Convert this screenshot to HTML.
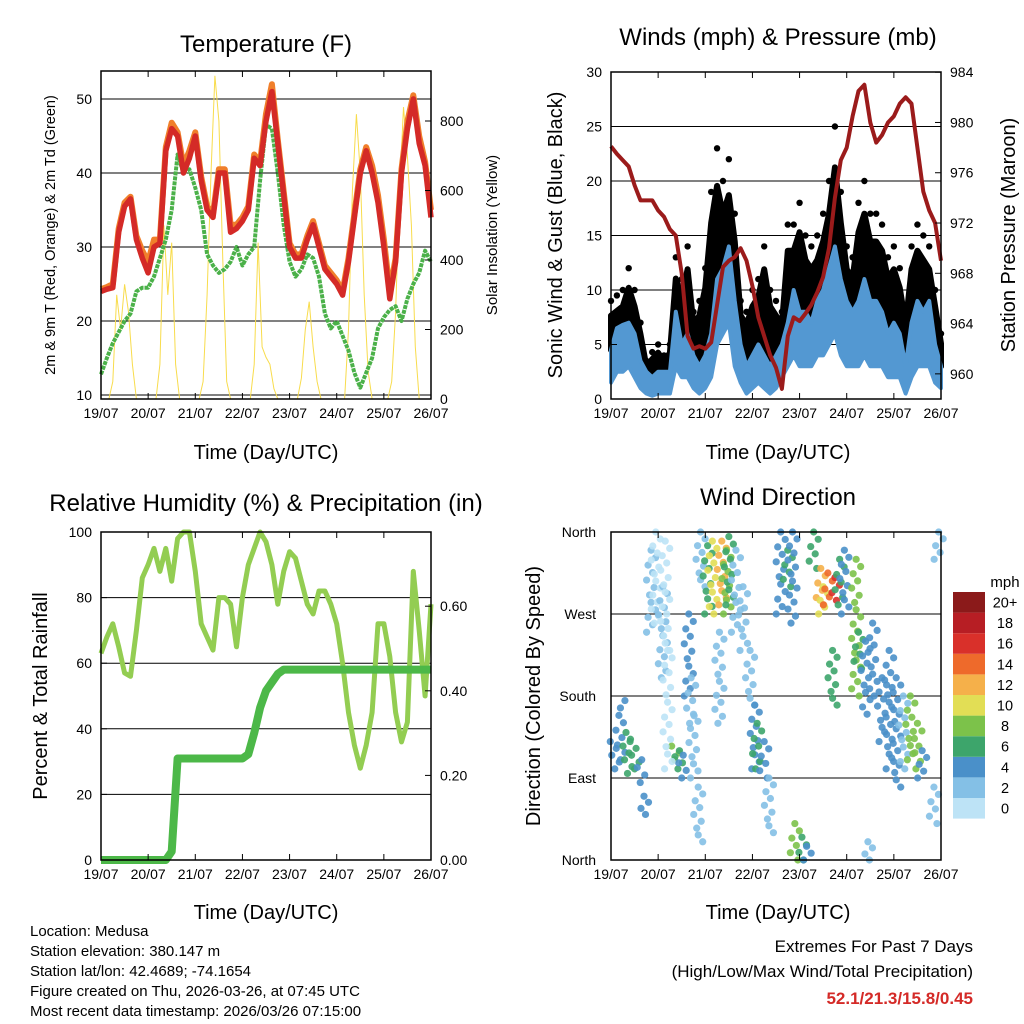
<!DOCTYPE html>
<html><head><meta charset="utf-8"><style>
body{margin:0;background:#fff;}
svg{display:block;font-family:"Liberation Sans",sans-serif;}
</style></head><body>
<svg id="c" width="1024" height="1024" viewBox="0 0 1024 1024">
<rect width="1024" height="1024" fill="#fff"/>
<text x="266" y="52" font-size="24" text-anchor="middle">Temperature (F)</text>
<text x="778" y="45" font-size="24" text-anchor="middle">Winds (mph) &amp; Pressure (mb)</text>
<text x="266" y="511" font-size="24" text-anchor="middle">Relative Humidity (%) &amp; Precipitation (in)</text>
<text x="778" y="505" font-size="24" text-anchor="middle">Wind Direction</text>
<text transform="translate(55,235) rotate(-90)" font-size="14.5" text-anchor="middle">2m &amp; 9m T (Red, Orange) &amp; 2m Td (Green)</text>
<text transform="translate(497,235) rotate(-90)" font-size="15" text-anchor="middle">Solar Insolation (Yellow)</text>
<text transform="translate(562,235) rotate(-90)" font-size="20" text-anchor="middle">Sonic Wind &amp; Gust (Blue, Black)</text>
<text transform="translate(1015,235) rotate(-90)" font-size="20" text-anchor="middle">Station Pressure (Maroon)</text>
<text transform="translate(47,696) rotate(-90)" font-size="20" text-anchor="middle">Percent &amp; Total Rainfall</text>
<text transform="translate(540,696) rotate(-90)" font-size="20" text-anchor="middle">Direction (Colored By Speed)</text>
<text x="266" y="459" font-size="20" text-anchor="middle">Time (Day/UTC)</text>
<text x="778" y="459" font-size="20" text-anchor="middle">Time (Day/UTC)</text>
<text x="266" y="919" font-size="20" text-anchor="middle">Time (Day/UTC)</text>
<text x="778" y="919" font-size="20" text-anchor="middle">Time (Day/UTC)</text>
<g font-size="15">
<text x="30" y="936">Location: Medusa</text>
<text x="30" y="956">Station elevation: 380.147 m</text>
<text x="30" y="976">Station lat/lon: 42.4689; -74.1654</text>
<text x="30" y="996">Figure created on Thu, 2026-03-26, at 07:45 UTC</text>
<text x="30" y="1016">Most recent data timestamp: 2026/03/26 07:15:00</text>
</g>
<text x="973" y="952" font-size="17" text-anchor="end">Extremes For Past 7 Days</text>
<text x="973" y="977" font-size="17" text-anchor="end">(High/Low/Max Wind/Total Precipitation)</text>
<text x="973" y="1004" font-size="17" font-weight="bold" fill="#d42a27" text-anchor="end">52.1/21.3/15.8/0.45</text>
<text x="1005" y="587" font-size="15" text-anchor="middle">mph</text>
</svg>
<script>
const dayLabels=["19/07","20/07","21/07","22/07","23/07","24/07","25/07","26/07"];
const tempRed=[24,24.3,24.5,32,35.5,36.5,31,28.5,26.5,30,30.5,43,46,45,40,42,45,39,35,34,40,40,32,32.5,33.5,35,42,41,47,51,44,37,30,28.5,28.5,31,33,30,27,26,25,23.5,28,34,40,43,40,36,30,23,28,40,46,50,44,41,34];
const tempOrange=[24.3,24.6,25,32.5,36,36.8,31.5,29.5,28,31,31,43.5,46.8,45.5,41,43,45.5,39.5,35.5,34.5,40.5,40.5,33,33,34,35.5,42.5,41.5,48,52,44.5,37.5,30.5,29,29,31.5,33.5,30.5,27.5,26.5,25.5,24,28.5,34.5,40.5,43.5,41,37,31,24,28.5,40.5,47,50.5,45,41.5,35];
const dewGreen=[12.8,15,17,18.5,20,21,24,24.5,24.5,26,28.5,31,35,42.5,40,40.5,38,35,29,27.5,26.5,27,28,30,27.5,29,30,39,46.5,46,40,33,28,26,27,29,28.5,26,21,19,20,18,16,13,11,13,15,19,20.5,21.5,22,20,23,25,26.5,29.5,28];
const solar=[0,0,0,50,300,200,330,250,100,0,0,0, 0,0,0,100,500,300,450,100,0,0,0,0, 0,0,50,300,650,930,800,400,50,0,0,0, 0,0,0,100,450,150,120,100,30,0,0,0, 0,0,0,60,200,280,150,50,0,0,0,0, 0,0,0,200,600,820,650,300,80,0,0,0, 0,0,50,250,600,840,700,500,150,0,0,0,0];
const tempTicks=[10,20,30,40,50];
const solarTicks=[0,200,400,600,800];
const windMean=[4.5,6.5,6.8,7,6,3.5,2.5,2,2.5,2.5,2.5,8,5,6,4,3,4,6,11,12,14,9,5,3,4,5,4,3,4,5,7,10,8,8,7,9,10,12,14,11,9,8,9,11,9,9,8,6,7,6,3,7,9,8,9,5,3];
const windLow=[1.5,2.5,2.5,3,2,1,0.5,0.3,0.5,0.5,0.5,3,2,2,1,0.5,1,2,5,6,7,3,1.5,0.5,1,1.5,1,0.5,1,2,3,4,3,3,3,4,4,5,6,4,3,3,3,4,3,3,3,2,2,2,0.5,2,3,3,3,1.5,1];
const gustMax=[9,9.5,10,12,10,7,3.5,4.3,5,4,5,13,11,14,8,9,12,19,23,20,22,17,9,8,10,11,14,10,9,8,16,16,18,15,14,15,17,20,25,19,14,13,18,20,17,17,16,13,14,12,8,14,16,15,14,10,6];
const pressure=[978.1,977.5,977,976.5,975,973.8,973.8,973.8,973,972.5,971.5,971,968,963,962,962.2,962,962.5,965.5,968.5,969,969.3,970,969,967,964.5,963,961.5,960.5,958.8,963,964.5,964.2,964.8,965.5,966.5,967.7,970,974,977,978,980.5,982.5,983,980,978.4,979,980,980.5,981.5,982,981.5,978,974.5,973,972,969];
const windTicks=[0,5,10,15,20,25,30];
const pressTicks=[960,964,968,972,976,980,984];
const relHum=[63,68,72,65,57,56,70,86,90,95,88,95,85,98,100,100,88,72,68,64,80,80,78,65,80,90,95,100,97,90,78,88,94,92,85,78,75,82,82,78,72,60,45,35,28,35,45,72,72,62,45,36,42,88,70,50,78];
const precip=[0,0,0,0,0,0,0,0,0,0,0,0,0.02,0.24,0.24,0.24,0.24,0.24,0.24,0.24,0.24,0.24,0.24,0.24,0.24,0.25,0.30,0.36,0.40,0.42,0.44,0.45,0.45,0.45,0.45,0.45,0.45,0.45,0.45,0.45,0.45,0.45,0.45,0.45,0.45,0.45,0.45,0.45,0.45,0.45,0.45,0.45,0.45,0.45,0.45,0.45,0.45];
const rhTicks=[0,20,40,60,80,100];
const precipTicks=[0,0.2,0.4,0.6];
const dirTime=[0.08,0.2,0.35,0.5,0.62,0.7,0.85,0.95,1.1,1.15,1.35,1.42,1.5,1.65,1.7,1.75,1.85,1.9,2.05,2.15,2.35,2.45,2.5,2.65,2.8,2.95,3.05,3.1,3.25,3.35,3.6,3.75,3.85,3.9,4.05,4.15,4.3,4.45,4.5,4.6,4.75,4.85,4.95,5.2,5.25,5.4,5.55,5.75,5.9,6.05,6.2,6.35,6.5,6.6,6.85,6.95,4.7,5.45,1.2,2.3];
const dirFrom=[100,110,95,100,85,70,340,360,300,350,110,100,90,270,200,160,80,360,345,350,350,340,355,340,300,230,170,150,130,90,360,340,360,40,25,15,360,320,300,315,310,330,340,330,250,240,260,200,230,200,180,180,150,120,80,360,230,20,230,250];
const dirTo=[130,175,140,130,110,50,250,260,200,230,125,120,115,180,150,90,20,300,270,270,280,270,280,250,230,170,100,100,90,30,270,300,260,0,0,0,320,280,270,280,285,280,270,180,210,160,180,130,100,80,100,110,100,90,40,330,170,0,100,150];
const dirSpeed=[4,4,5,6,4,3,1,0,1,0,7,5,3,3,2,2,1,2,5,9,11,8,6,2,1,1,3,5,3,2,4,6,3,8,5,3,5,12,10,14,15,6,3,7,5,4,4,4,3,3,2,8,7,3,1,2,6,1,0,2];
const dirTickLabels=["North","East","South","West","North"];
const dirTickValues=[0,90,180,270,360];
const speedBins=["0","2","4","6","8","10","12","14","16","18","20+"];
const speedColors=["#bde3f6","#84c0e6","#4a90c9","#3da56b","#7cc24a","#e2de55","#f5b04a","#ee6a2b","#d9302a","#b71e24","#8b1a1a"];

const NS="http://www.w3.org/2000/svg";
const svg=document.getElementById('c');
function mk(tag,attrs,parent){const e=document.createElementNS(NS,tag);for(const k in attrs)e.setAttribute(k,attrs[k]);(parent||svg).appendChild(e);return e;}
function txt(x,y,s,anchor,size,parent){const e=mk('text',{x:x,y:y,'font-size':size||14,'text-anchor':anchor||'middle'},parent);e.textContent=s;return e;}

const P=[{x0:101,x1:431,y0:71,y1:399},{x0:611,x1:941,y0:72,y1:399},{x0:101,x1:431,y0:532,y1:860},{x0:611,x1:941,y0:532,y1:860}];
const xStep=(p,i,n)=>p.x0+i*(p.x1-p.x0)/n;
const yTemp=v=>395-(v-10)*7.4;
const ySolar=v=>399-v*0.3475;
const yWind=v=>399-v*10.9;
const yPress=v=>399-(v-958)*12.57;
const yRH=v=>860-v*3.28;
const yPrecip=v=>860-v*423;
const xDir=t=>611+t*330/7;
const yDir=d=>860-d*328/360;

function pts(p,arr,yf,n){return arr.map((v,i)=>xStep(p,i,n).toFixed(1)+','+yf(v).toFixed(1)).join(' ');}

const g0=mk('g',{});


tempTicks.forEach(v=>{const l=mk('line',{x1:P[0].x0,x2:P[0].x1,y1:yTemp(v),y2:yTemp(v),stroke:'#000','stroke-width':1},g0);});
windTicks.slice(1).forEach(v=>{const l=mk('line',{x1:P[1].x0,x2:P[1].x1,y1:yWind(v),y2:yWind(v),stroke:'#000','stroke-width':1},g0);});
rhTicks.slice(1,5).forEach(v=>{const l=mk('line',{x1:P[2].x0,x2:P[2].x1,y1:yRH(v),y2:yRH(v),stroke:'#000','stroke-width':1},g0);});
dirTickValues.slice(1,4).forEach(v=>{const l=mk('line',{x1:P[3].x0,x2:P[3].x1,y1:yDir(v),y2:yDir(v),stroke:'#000','stroke-width':1},g0);});

// Panel 1
const sol=mk('polyline',{points:pts(P[0],solar,ySolar,84),fill:'none',stroke:'#f8dc4c','stroke-width':1});


const dew=mk('polyline',{points:pts(P[0],dewGreen,yTemp,56),fill:'none',stroke:'#4bb149','stroke-width':4,'stroke-dasharray':'4 1','stroke-linejoin':'round'});


const orl=mk('polyline',{points:pts(P[0],tempOrange,yTemp,56),fill:'none',stroke:'#f07f2b','stroke-width':6,'stroke-linejoin':'round'});


const red=mk('polyline',{points:pts(P[0],tempRed,yTemp,56),fill:'none',stroke:'#d42a27','stroke-width':5.5,'stroke-linejoin':'round'});



// Panel 2
const gp=[];windMean.forEach((v,i)=>gp.push(xStep(P[1],i,56)+','+yWind(v)));
for(let i=gustMax.length-1;i>=0;i--)gp.push(xStep(P[1],i,56)+','+yWind(gustMax[i]*0.85));
const gb=mk('polygon',{points:gp.join(' '),fill:'#000',stroke:'#000','stroke-width':6,'stroke-linejoin':'round'});


gustMax.forEach((v,i)=>{const c=mk('circle',{cx:xStep(P[1],i,56),cy:yWind(v),r:3.2,fill:'#000'});});
const wp=[];windMean.forEach((v,i)=>wp.push(xStep(P[1],i,56)+','+yWind(v)));
for(let i=windLow.length-1;i>=0;i--)wp.push(xStep(P[1],i,56)+','+yWind(windLow[i]));
const wb=mk('polygon',{points:wp.join(' '),fill:'#5398d2',stroke:'#5398d2','stroke-width':4,'stroke-linejoin':'round'});


const pl=mk('polyline',{points:pts(P[1],pressure,yPress,56),fill:'none',stroke:'#9b1b1b','stroke-width':4,'stroke-linejoin':'round'});



// Panel 3
const rh=mk('polyline',{points:pts(P[2],relHum,yRH,56),fill:'none',stroke:'#93cd52','stroke-width':5,'stroke-linejoin':'round'});


const pr=mk('polyline',{points:pts(P[2],precip,yPrecip,56),fill:'none',stroke:'#4cb848','stroke-width':8,'stroke-linejoin':'round'});



// Panel 4
const jit=[0,3,-2,1,-3,2,-1];
dirTime.forEach((t,k)=>{
  const d1=dirFrom[k],d2=dirTo[k];const n=Math.max(2,Math.round(Math.abs(d1-d2)/8));
  const col=speedColors[Math.min(10,Math.round(dirSpeed[k]/2))];
  for(let j=0;j<=n;j++){const d=d1+(d2-d1)*j/n;
    const c=mk('circle',{cx:xDir(t)+jit[j%7]*1.5,cy:yDir(d),r:3.6,fill:col,opacity:0.9});
    
    }
});

speedBins.forEach((s,i)=>{const j=10-i;const y=592+j*20.6;
  const r=mk('rect',{x:953,y:y,width:32,height:20.6,fill:speedColors[i]});
  
  
  const t=txt(1005,y+15.5,s,'middle',14.5);
  
  });

P.forEach((p,pi)=>{
  const f=mk('rect',{x:p.x0,y:p.y0,width:p.x1-p.x0,height:p.y1-p.y0,fill:'none',stroke:'#000','stroke-width':1.5});
  
  
  dayLabels.forEach((s,i)=>{const x=p.x0+i*(p.x1-p.x0)/7;
    mk('line',{x1:x,x2:x,y1:p.y1,y2:p.y1-6,stroke:'#000'});mk('line',{x1:x,x2:x,y1:p.y0,y2:p.y0+6,stroke:'#000'});
    const t=txt(x,p.y1+19,s,'middle',14);
    
    });
});
function yTicks(p,vals,yf,fmt,side){vals.forEach(v=>{const y=yf(v);
  const x=side==='l'?p.x0:p.x1;mk('line',{x1:x,x2:side==='l'?x+6:x-6,y1:y,y2:y,stroke:'#000'});
  const t=txt(side==='l'?p.x0-9:p.x1+9,y+5,fmt(v),side==='l'?'end':'start',14);
  
  });}
yTicks(P[0],tempTicks,yTemp,v=>v,'l');
yTicks(P[0],solarTicks,ySolar,v=>v,'r');
yTicks(P[1],windTicks,yWind,v=>v,'l');
yTicks(P[1],pressTicks,yPress,v=>v,'r');
yTicks(P[2],rhTicks,yRH,v=>v,'l');
yTicks(P[2],precipTicks,yPrecip,v=>v.toFixed(2),'r');
dirTickValues.forEach((v,i)=>{const t=txt(596,yDir(v)+5,dirTickLabels[i],'end',14);
  
  });
</script>
</body></html>
